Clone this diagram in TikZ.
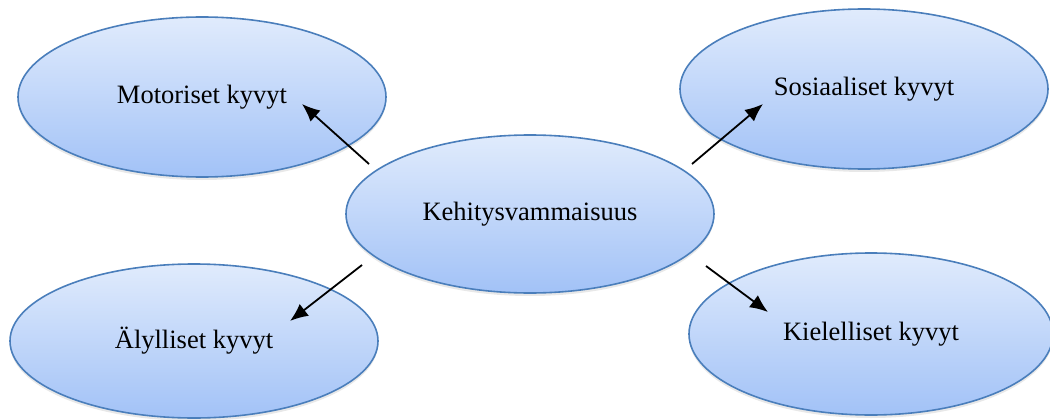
\documentclass[tikz,border=0pt]{standalone}
\usepackage{fontspec}
\setmainfont{Liberation Serif}
\usetikzlibrary{shapes.geometric,arrows.meta,shadows}
\definecolor{topblue}{HTML}{E0EBFC}
\definecolor{botblue}{HTML}{A2C2F7}
\definecolor{edgeblue}{HTML}{4A7EBB}
\tikzset{
  bubble/.style={ellipse, draw=edgeblue, line width=1.6pt,
    top color=topblue, bottom color=botblue,
    minimum width=368pt, minimum height=160pt, inner sep=0pt,
    font=\fontsize{26.5}{30}\selectfont,
    drop shadow={opacity=0.18, shadow xshift=0pt, shadow yshift=-3pt}},
  link/.style={line width=1.8pt, -{Latex[length=18pt,width=15pt]}}
}
\begin{document}
\begin{tikzpicture}[x=1pt,y=-1pt]
\useasboundingbox (0,0) rectangle (1050,420);
\node[bubble] (mot) at (202,97) {Motoriset kyvyt};
\node[bubble] (sos) at (864,89) {Sosiaaliset kyvyt};
\node[bubble, minimum height=158pt] (keh) at (530,214) {Kehitysvammaisuus};
\node[bubble, minimum height=154pt] (aly) at (194,341) {Älylliset kyvyt};
\node[bubble, minimum width=364pt, minimum height=162pt] (kie) at (871,334) {Kielelliset kyvyt};
\coordinate (s1) at (369,164);
\coordinate (e1) at (302,104);
\coordinate (s2) at (692,164);
\coordinate (e2) at (763,104);
\coordinate (s3) at (362,265);
\coordinate (e3) at (290,321);
\coordinate (s4) at (706,266);
\coordinate (e4) at (768,312);
\draw[link] (s1) -- (e1);
\draw[link] (s2) -- (e2);
\draw[link] (s3) -- (e3);
\draw[link] (s4) -- (e4);
\end{tikzpicture}
\end{document}
